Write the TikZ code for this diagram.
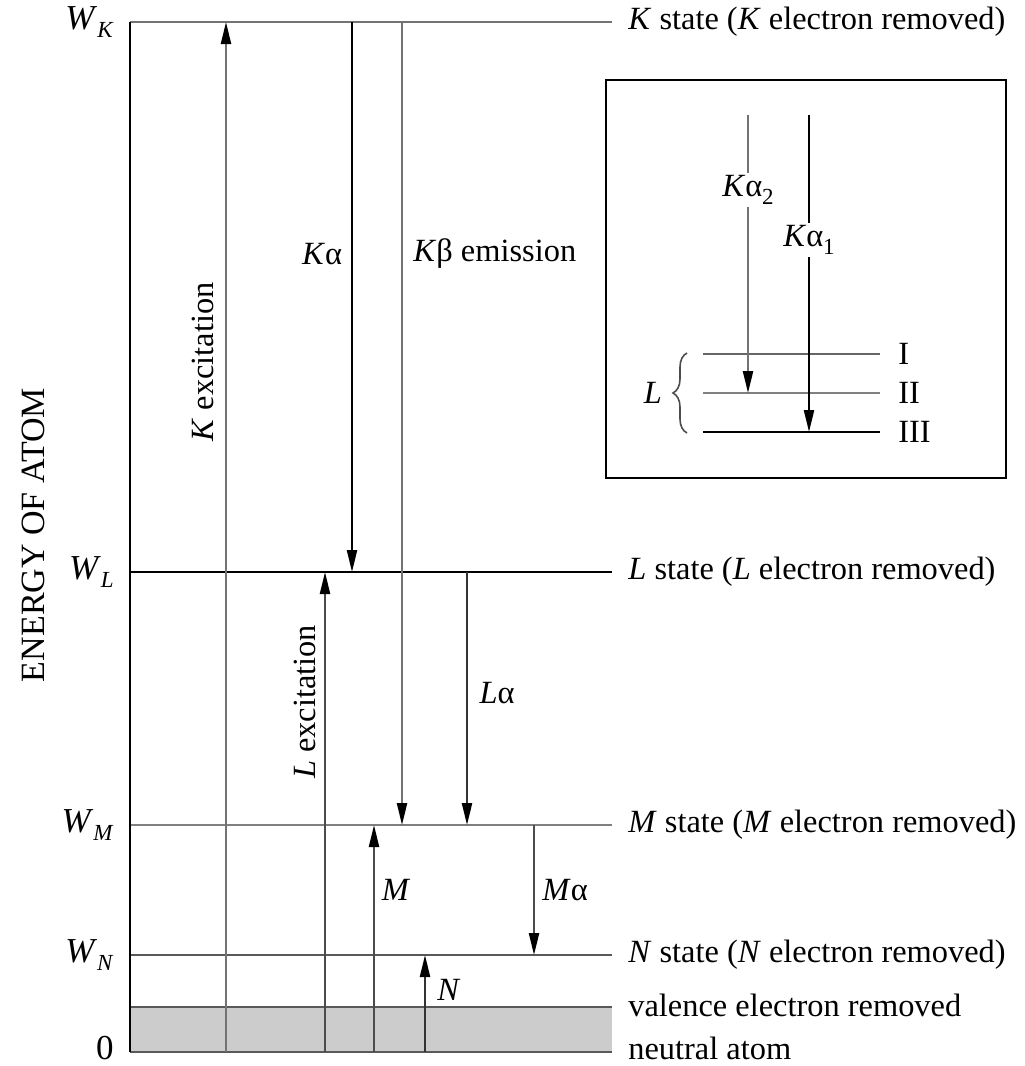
\documentclass[tikz,border=0pt]{standalone}
\usepackage{fontspec}
\setmainfont{Liberation Serif}
\usetikzlibrary{arrows.meta,positioning,decorations.pathreplacing}

\newcommand{\lsub}[1]{\raisebox{-0.55ex}{\fontsize{11.5}{12}\selectfont #1}}

\begin{document}
\begin{tikzpicture}[x=0.5pt,y=-0.5pt,>={Triangle[width=5pt,length=11pt,color=black]},
    font=\fontsize{16.2}{19}\selectfont,
    enlevel/.style={line width=1.2pt},
    xray/.style={->,line width=1.2pt},
    tag/.style={inner sep=1pt}]
  \useasboundingbox (0,0) rectangle (1024,1066);

  % energy levels
  \coordinate (wk) at (130,22);   \coordinate (wkR) at (612,22);
  \coordinate (wl) at (130,572);  \coordinate (wlR) at (612,572);
  \coordinate (wm) at (130,825);  \coordinate (wmR) at (612,825);
  \coordinate (wn) at (130,955);  \coordinate (wnR) at (612,955);
  \coordinate (wv) at (130,1007); \coordinate (wvR) at (612,1007);
  \coordinate (w0) at (130,1052); \coordinate (w0R) at (612,1052);

  \fill[black!20] (wv) rectangle (w0R);
  \draw[enlevel,black!55] (wk) -- (wkR);
  \draw[enlevel] (wl) -- (wlR);
  \draw[enlevel,black!50] (wm) -- (wmR);
  \draw[enlevel,black!65] (wn) -- (wnR);
  \draw[enlevel,black!65] (wv) -- (wvR);
  \draw[enlevel,black!65] (w0) -- (w0R);
  \draw[enlevel] (wk) -- (w0);

  \node[tag,left=7pt of wk] (lwk) {\fontsize{17.5}{20}\selectfont\textit{W}\lsub{\textit{K}}};
  \node[tag,left=7pt of wl] (lwl) {\fontsize{17.5}{20}\selectfont\textit{W}\lsub{\textit{L}}};
  \node[tag,left=7pt of wm] (lwm) {\fontsize{17.5}{20}\selectfont\textit{W}\lsub{\textit{M}}};
  \node[tag,left=7pt of wn] (lwn) {\fontsize{17.5}{20}\selectfont\textit{W}\lsub{\textit{N}}};
  \node[tag,left=7pt of w0,yshift=2pt] (lw0) {\fontsize{17.5}{20}\selectfont 0};

  \node[tag,right=7pt of wkR] (sk) {\textit{K} state (\textit{K} electron removed)};
  \node[tag,right=7pt of wlR] (sl) {\textit{L} state (\textit{L} electron removed)};
  \node[tag,right=7pt of wmR] (sm) {\textit{M} state (\textit{M} electron removed)};
  \node[tag,right=7pt of wnR] (sn) {\textit{N} state (\textit{N} electron removed)};
  \node[tag,right=7pt of wvR,yshift=1pt] (sv) {valence electron removed};
  \node[tag,right=7pt of w0R,yshift=2pt] (s0) {neutral atom};

  \node[rotate=90] (axis) at (33,535) {\fontsize{17}{20}\selectfont ENERGY OF ATOM};

  % transitions
  \coordinate (ke) at (226,1052);
  \coordinate (ka) at (352,22);
  \coordinate (kb) at (402,22);
  \coordinate (le) at (325,1052);
  \coordinate (la) at (467,572);
  \coordinate (me) at (374,1052);
  \coordinate (ma) at (534,825);
  \coordinate (ne) at (425,1052);

  \draw[xray,draw=black!55] (ke) -- (ke |- wk);
  \draw[xray] (ka) -- (ka |- wl);
  \draw[xray,draw=black!55] (kb) -- (kb |- wm);
  \draw[xray,draw=black!70] (le) -- (le |- wl);
  \draw[xray,draw=black!80] (la) -- (la |- wm);
  \draw[xray,draw=black!70] (me) -- (me |- wm);
  \draw[xray,draw=black!70] (ma) -- (ma |- wn);
  \draw[xray,draw=black!80] (ne) -- (ne |- wn);

  \node[rotate=90] (lke) at (203,362) {\textit{K} excitation};
  \node (lka) at (322,254) {\textit{K}α};
  \node[anchor=west,tag] (lkb) at (411,254) {\textit{K}β emission};
  \node[rotate=90] (lle) at (305,702) {\textit{L} excitation};
  \node (lla) at (497,693) {\textit{L}α};
  \node (lme) at (396,890) {\textit{M}};
  \node (lma) at (565,890) {\textit{M}α};
  \node (lne) at (449,990) {\textit{N}};

  % inset: L sublevels
  \coordinate (boxNW) at (606,80);
  \coordinate (boxSE) at (1006,478);
  \draw[line width=1.2pt] (boxNW) rectangle (boxSE);

  \coordinate (s1) at (703,354); \coordinate (s1R) at (880,354);
  \coordinate (s2) at (703,393); \coordinate (s2R) at (880,393);
  \coordinate (s3) at (703,432); \coordinate (s3R) at (880,432);
  \draw[enlevel,black!60] (s1) -- (s1R);
  \draw[enlevel,black!50] (s2) -- (s2R);
  \draw[enlevel] (s3) -- (s3R);
  \node[tag,right=8pt of s1R] (t1) {I};
  \node[tag,right=8pt of s2R] (t2) {II};
  \node[tag,right=8pt of s3R] (t3) {III};

  \coordinate (a2) at (748,115);
  \coordinate (a1) at (809,115);
  \draw[xray,draw=black!55] (a2) -- (a2 |- s2)
    node[pos=0.27,fill=white,text=black,tag] (la2) {\textit{K}α\lsub{2}};
  \draw[xray] (a1) -- (a1 |- s3)
    node[pos=0.394,fill=white,tag] (la1) {\textit{K}α\lsub{1}};

  \draw[decorate,decoration={brace,amplitude=7pt},line width=0.8pt,black!70]
    (687,433) -- (687,353);
  \node (lsh) at (653,393) {\textit{L}};
\end{tikzpicture}
\end{document}
